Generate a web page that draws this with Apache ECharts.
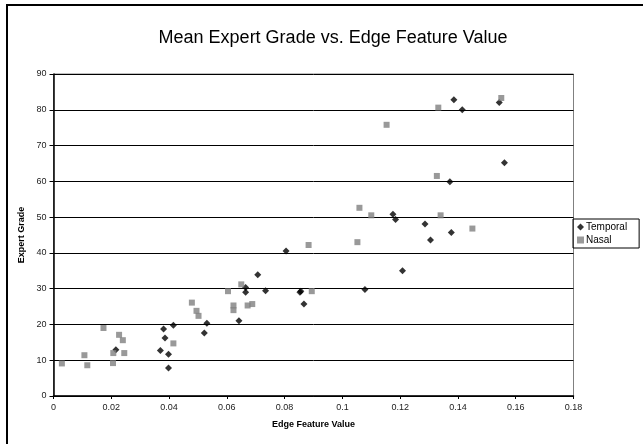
<!DOCTYPE html>
<html><head><meta charset="utf-8">
<script src="https://cdn.jsdelivr.net/npm/echarts@6/dist/echarts.min.js"></script>
<style>html,body{margin:0;padding:0;background:#fff}#c{width:643px;height:444px}</style>
</head><body><div id="c"></div>
<script>
const titleText = "Mean Expert Grade vs. Edge Feature Value";
const xName = "Edge Feature Value";
const yName = "Expert Grade";
const temporalX = [0.0216,0.0370,0.0381,0.0386,0.0398,0.0398,0.0415,0.0522,0.0531,0.0642,0.0665,0.0665,0.0707,0.0734,0.0805,0.0853,0.0856,0.0867,0.1078,0.1386,0.1415,0.1543,0.1561,0.1372,0.1175,0.1184,0.1286,0.1377,0.1305,0.1208];
const temporalY = [12.9,12.7,18.7,16.2,11.7,7.8,19.8,17.6,20.3,21.0,30.3,29.0,33.9,29.4,40.5,29.0,29.3,25.7,29.8,82.8,80.0,82.0,65.2,59.9,50.8,49.3,48.1,45.7,43.6,35.0];
const nasalX = [0.0029,0.0107,0.0117,0.0173,0.0207,0.0206,0.0227,0.0240,0.0245,0.0415,0.0479,0.0495,0.0502,0.0604,0.0623,0.0623,0.0650,0.0672,0.0688,0.0894,0.0883,0.1052,0.1059,0.1100,0.1153,0.1332,0.1550,0.1327,0.1340,0.1450];
const nasalY = [9.1,11.4,8.6,19.0,12.0,9.2,17.1,15.6,12.0,14.7,26.1,23.8,22.4,29.3,25.3,24.0,31.2,25.3,25.7,29.3,42.2,43.0,52.6,50.5,75.8,80.6,83.3,61.5,50.5,46.8];

const font = "Arial, 'Liberation Sans', sans-serif";
const chart = echarts.init(document.getElementById('c'), null, {renderer:'canvas'});
chart.setOption({
  animation:false,
  backgroundColor:'#fff',
  graphic:[
    {type:'rect', shape:{x:7,y:5,width:700,height:500}, style:{fill:'none',stroke:'#000',lineWidth:2}, z:-1},
    {type:'rect', shape:{x:53.5,y:74,width:520,height:322}, style:{fill:'none',stroke:'#808080',lineWidth:1}, z:0}
  ],
  title:{text:titleText, left:328, top:24, textAlign:'center',
    textStyle:{fontFamily:font,fontSize:18,fontWeight:'normal',color:'#000'}},
  legend:{
    orient:'vertical', left:573, top:219, padding:[3,12,3,4], itemGap:3,
    borderColor:'#000', borderWidth:1, itemWidth:7, itemHeight:7,
    textStyle:{fontFamily:font,fontSize:10,color:'#000',padding:[0,0,0,-3]},
    data:[{name:'Temporal',icon:'diamond'},{name:'Nasal',icon:'rect'}]
  },
  grid:{left:53.5,right:69.5,top:74,bottom:48,containLabel:false},
  xAxis:{type:'value',min:0,max:0.18,interval:0.02,
    name:xName,nameLocation:'middle',nameGap:24,
    nameTextStyle:{fontFamily:font,fontSize:9,fontWeight:'bold',color:'#000'},
    axisLine:{show:true,lineStyle:{color:'#000',width:1.5}},
    axisTick:{show:true,inside:false,length:3,lineStyle:{color:'#000'}},
    axisLabel:{fontFamily:font,fontSize:9,color:'#222',margin:7},
    splitLine:{show:false}},
  yAxis:{type:'value',min:0,max:90,interval:10,
    name:yName,nameLocation:'middle',nameGap:26,
    nameTextStyle:{fontFamily:font,fontSize:9,fontWeight:'bold',color:'#000'},
    axisLine:{show:true,lineStyle:{color:'#000',width:1.5}},
    axisTick:{show:true,inside:false,length:4,lineStyle:{color:'#000'}},
    axisLabel:{fontFamily:font,fontSize:9,color:'#222',margin:7},
    splitLine:{show:true,lineStyle:{color:'#000',width:1}}},
  series:[
    {name:'Temporal',type:'scatter',symbol:'diamond',symbolSize:7,
     itemStyle:{color:'#000'},
     data:temporalX.map((x,i)=>[x,temporalY[i]])},
    {name:'Nasal',type:'scatter',symbol:'rect',symbolSize:6,
     itemStyle:{color:'#808080'},
     data:nasalX.map((x,i)=>[x,nasalY[i]])}
  ]
});
</script></body></html>
